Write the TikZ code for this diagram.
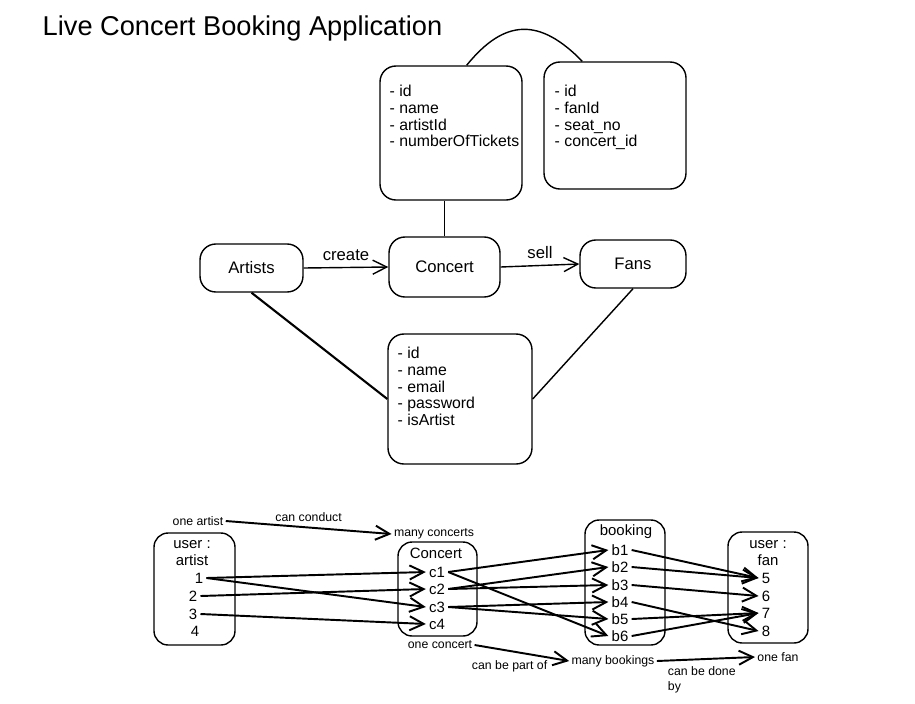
\documentclass[tikz,border=0pt]{standalone}
\usepackage{fontspec}
\setmainfont{Liberation Sans}
\usetikzlibrary{arrows.meta}
\begin{document}
\begin{tikzpicture}[x=0.02cm, y=-0.02cm, line width=0.8pt,
        every node/.style={font=\fontsize{9.5}{11}\selectfont},
        box/.style={draw, rounded corners=9pt},
        sbox/.style={draw, rounded corners=8pt},
        attr/.style={align=left, anchor=north west, inner sep=0pt, font=\fontsize{9}{9.64}\selectfont},
        item/.style={inner sep=1.5pt, font=\fontsize{8.5}{9.64}\selectfont},
        small/.style={inner sep=1pt, font=\fontsize{7}{8.5}\selectfont},
        arr/.style={-{Straight Barb[length=8pt, width=8pt]}, line width=1.1pt}]
        \useasboundingbox (0,0) rectangle (915,703);

        \node[anchor=west, inner sep=0pt, font=\fontsize{15.5}{18}\selectfont] (title) at (42,28) {Live Concert Booking Application};

        \node[box, minimum width=2.84cm, minimum height=2.68cm] (cattr) at (451,133) {};
        \node[attr] (cattrtext) at (389,84) {- id\\- name\\- artistId\\- numberOfTickets};
        \node[box, minimum width=2.84cm, minimum height=2.54cm] (battr) at (615,125.5) {};
        \node[attr] (battrtext) at (554,84) {- id\\- fanId\\- seat\_no\\- concert\_id};
        \node[box, minimum width=2.88cm, minimum height=2.6cm] (uattr) at (460,399) {};
        \node[attr] (uattrtext) at (397,346) {- id\\- name\\- email\\- password\\- isArtist};

        \node[box, minimum width=2.06cm, minimum height=0.96cm] (artists) at (251.5,268) {Artists};
        \node[box, minimum width=2.22cm, minimum height=1.2cm] (concert) at (444.5,267) {Concert};
        \node[box, minimum width=2.12cm, minimum height=0.96cm] (fans) at (633,264) {Fans};

        \draw (cattr.77) .. controls (505,18) and (540,18) .. (battr.117);
        \draw (concert.north) -- (concert.north |- cattr.south);
        \draw[arr, line width=0.8pt] (artists.east) -- (concert.west) node[midway, above] {create};
        \draw[arr, line width=0.8pt] (concert.east) -- (fans.west) node[midway, above] {sell};
        \draw[line width=1.2pt] (artists.south) -- (uattr.west);
        \draw (fans.south) -- (uattr.east);

        \node[sbox, minimum width=1.62cm, minimum height=2.24cm] (uart) at (194.5,589) {};
        \node[item, align=center] (uarthead) at (192,553.5) {user :\\artist};
        \node[item] (a1) at (199,578) {1};
        \node[item] (a2) at (193,596) {2};
        \node[item] (a3) at (193,614) {3};
        \node[item] (a4) at (195,631) {4};

        \node[sbox, minimum width=1.58cm, minimum height=1.88cm] (cbox) at (437.5,589) {};
        \node[item] (chead) at (436,553) {Concert};
        \node[item] (c1) at (437,572) {c1};
        \node[item] (c2) at (437,589) {c2};
        \node[item] (c3) at (437,607) {c3};
        \node[item] (c4) at (437,624) {c4};

        \node[sbox, minimum width=1.6cm, minimum height=2.5cm] (bbox) at (625,582.5) {};
        \node[item] (bhead) at (626,532) {booking};
        \node[item] (b1) at (620,550) {b1};
        \node[item] (b2) at (620,567) {b2};
        \node[item] (b3) at (620,585) {b3};
        \node[item] (b4) at (620,602) {b4};
        \node[item] (b5) at (620,619) {b5};
        \node[item] (b6) at (620,636) {b6};

        \node[sbox, minimum width=1.6cm, minimum height=2.22cm] (ufan) at (768,587.5) {};
        \node[item, align=center] (ufanhead) at (768,553.5) {user :\\fan};
        \node[item] (f5) at (766,578) {5};
        \node[item] (f6) at (766,596) {6};
        \node[item] (f7) at (766,613) {7};
        \node[item] (f8) at (766,631) {8};

        \draw[arr] (a1.east) -- (c1.west);
        \draw[arr] (a1.east) -- (c3.west);
        \draw[arr] (a2.east) -- (c2.west);
        \draw[arr] (a3.east) -- (c4.west);

        \draw[arr] (c1.east) -- (b1.west);
        \draw[arr] (c1.east) -- (b6.west);
        \draw[arr] (c2.east) -- (b2.west);
        \draw[arr] (c2.east) -- (b3.west);
        \draw[arr] (c3.east) -- (b4.west);
        \draw[arr] (c3.east) -- (b5.west);

        \draw[arr] (b1.east) -- (f5.west);
        \draw[arr] (b2.east) -- (f5.west);
        \draw[arr] (b3.east) -- (f6.west);
        \draw[arr] (b4.east) -- (f8.west);
        \draw[arr] (b5.east) -- (f7.west);
        \draw[arr] (b6.east) -- (f7.west);

        \node[small] (oneart) at (198,521) {one artist};
        \node[small] (manyc) at (434,534) {many concerts};
        \node[small] (onec) at (440,645) {one concert};
        \node[small] (manyb) at (613,661) {many bookings};
        \node[small] (onefan) at (778,657) {one fan};

        \draw[arr] (oneart.east) -- (manyc.west) node[small, midway, above=2pt] {can conduct};
        \draw[arr] (onec.east) -- (manyb.west) node[small, pos=0.37, below=4pt] {can be part of};
        \draw[arr] (manyb.east) -- (onefan.west) node[small, pos=0.05, below right=2pt, align=left] {can be done\\by};
\end{tikzpicture}
\end{document}
